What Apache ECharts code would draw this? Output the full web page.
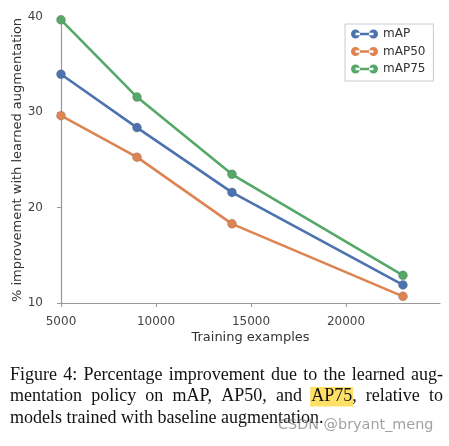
<!DOCTYPE html>
<html><head><meta charset="utf-8">
<script src="https://cdn.jsdelivr.net/npm/echarts@6/dist/echarts.min.js"></script>
<style>html,body{margin:0;padding:0;background:#fff;}#c{width:449px;height:446px;}</style>
</head><body><div id="c"></div>
<script>
const trainingExamples = [5000, 9000, 14000, 23000];
const mAP   = [34.0, 28.4, 21.6, 11.9];
const mAP50 = [29.65, 25.3, 18.3, 10.7];
const mAP75 = [39.7, 31.6, 23.5, 12.9];
const seriesNames = ['mAP', 'mAP50', 'mAP75'];
const xTicks = [5000, 10000, 15000, 20000];
const yTicks = [10, 20, 30, 40];
const captionLines = [
  'Figure 4: Percentage improvement due to the learned aug-',
  'mentation policy on mAP, AP50, and AP75, relative to',
  'models trained with baseline augmentation.'
];
const highlightWord = 'AP75';
const watermark = 'CSDN @bryant_meng';

const colors = ['#4C72B0', '#DD8452', '#55A868'];
const chart = echarts.init(document.getElementById('c'), null, {renderer: 'canvas'});

function pairs(vals) { return trainingExamples.map((x, i) => [x, vals[i]]); }

// caption layout (justified)
const capFont = '18px "Liberation Serif"';
const ctx = document.createElement('canvas').getContext('2d');
ctx.font = capFont;
const capLeft = 10, capRight = 443;
const baselines = [380, 401.5, 423];
const midOffset = 5;
const graphics = [];
captionLines.forEach((line, li) => {
  const words = line.split(' ');
  const justify = li < captionLines.length - 1;
  const widths = words.map(w => ctx.measureText(w).width);
  const total = widths.reduce((a, b) => a + b, 0);
  const gap = justify ? (capRight - capLeft - total) / (words.length - 1) : ctx.measureText(' ').width;
  let x = capLeft;
  words.forEach((w, wi) => {
    if (w.startsWith(highlightWord)) {
      const hw = ctx.measureText(highlightWord).width;
      graphics.push({type: 'rect', shape: {x: x - 1, y: baselines[li] - 14.5, width: hw + 2, height: 19.5},
        style: {fill: '#FFE066'}, z: 1});
    }
    graphics.push({type: 'text', x: x, y: baselines[li] - midOffset, z: 2,
      style: {text: w, font: capFont, fill: '#111', verticalAlign: 'middle', align: 'left'}});
    x += widths[wi] + gap;
  });
});
graphics.push({type: 'text', x: 278, y: 425.5, z: 3,
  style: {text: watermark, font: '14.4px "DejaVu Sans"', fill: 'rgba(130,130,130,0.75)', verticalAlign: 'middle', align: 'left'}});

const axisColor = '#999';
const labelColor = '#444';
const option = {
  animation: false,
  color: colors,
  grid: {left: 61, right: 9, top: 17, bottom: 143, outerBoundsMode: 'none', containLabel: false},
  legend: {
    orient: 'vertical', left: 345, top: 24,
    padding: [4, 8, 6, 6],
    itemGap: 5.5, itemWidth: 27, itemHeight: 9,
    borderColor: '#ccc', borderWidth: 1, borderRadius: 0,
    itemStyle: {borderWidth: 0},
    icon: 'path://M0,4.5a4.5,4.5 0 1,0 9,0a4.5,4.5 0 1,0 -9,0ZM4.5,3.3H22.5V5.7H4.5ZM18,4.5a4.5,4.5 0 1,0 9,0a4.5,4.5 0 1,0 -9,0Z',
    textStyle: {fontFamily: 'DejaVu Sans', fontSize: 12, color: '#333'},
    data: seriesNames
  },
  xAxis: {
    type: 'value', min: 5000, max: 24950,
    name: 'Training examples', nameLocation: 'middle', nameGap: 28, nameMoveOverlap: false,
    nameTextStyle: {fontFamily: 'DejaVu Sans', fontSize: 13, color: '#333'},
    axisLine: {show: true, lineStyle: {color: axisColor, width: 1.2}},
    axisTick: {show: true, length: 4, lineStyle: {color: axisColor}, customValues: xTicks},
    axisLabel: {fontFamily: 'DejaVu Sans', fontSize: 12, color: labelColor, margin: 13, customValues: xTicks,
      formatter: v => String(v)},
    splitLine: {show: false}
  },
  yAxis: {
    type: 'value', min: 10, max: 40,
    name: '% improvement with learned augmentation', nameLocation: 'middle', nameGap: 37, nameMoveOverlap: false,
    nameTextStyle: {fontFamily: 'DejaVu Sans', fontSize: 13, color: '#333'},
    axisLine: {show: true, lineStyle: {color: axisColor, width: 1.2}},
    axisTick: {show: true, length: 4, lineStyle: {color: axisColor}, customValues: yTicks},
    axisLabel: {fontFamily: 'DejaVu Sans', fontSize: 12, color: labelColor, margin: 18, customValues: yTicks,
      formatter: v => String(v)},
    splitLine: {show: false}
  },
  series: [mAP, mAP50, mAP75].map((vals, i) => ({
    name: seriesNames[i], type: 'line', data: pairs(vals),
    symbol: 'circle', symbolSize: 9, showSymbol: true,
    lineStyle: {width: 2.6, color: colors[i]},
    itemStyle: {color: colors[i], borderColor: 'rgba(90,90,90,0.5)', borderWidth: 0.5},
    clip: false
  })),
  graphic: graphics
};
chart.setOption(option);
</script></body></html>
